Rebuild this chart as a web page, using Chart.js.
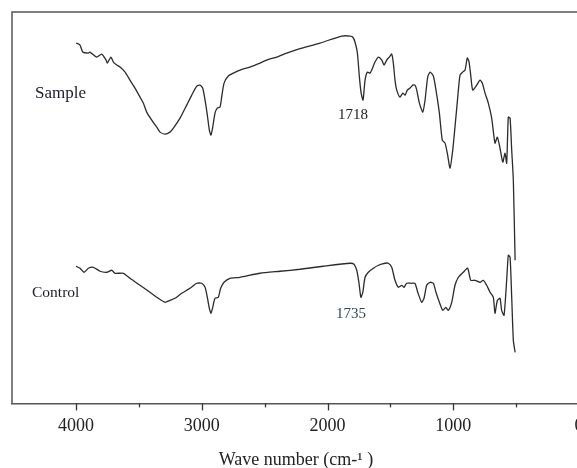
<!DOCTYPE html>
<html>
<head>
<meta charset="utf-8">
<script src="https://cdn.jsdelivr.net/npm/chart.js@4"></script>
<style>
  html, body { margin: 0; padding: 0; overflow: hidden; background: #fff; }
  #wrap { width: 600px; height: 468px; }
</style>
</head>
<body>
<div id="wrap"><canvas id="chart"></canvas></div>
<script>
// FTIR spectra, wavenumber (cm-1) vs. transmittance (arbitrary units)
const sampleWn = [4000, 3968, 3947, 3902, 3889, 3835, 3796, 3761, 3751, 3722, 3703, 3676, 3650, 3610, 3571, 3531, 3491, 3465, 3438, 3398, 3358, 3332, 3292, 3253, 3226, 3173, 3120, 3080, 3040, 3014, 2993, 2974, 2956, 2940, 2927, 2913, 2895, 2877, 2855, 2842, 2823, 2789, 2749, 2696, 2617, 2537, 2484, 2404, 2325, 2232, 2060, 1887, 1821, 1800, 1782, 1763, 1747, 1733, 1718, 1702, 1684, 1662, 1649, 1623, 1596, 1569, 1551, 1530, 1509, 1490, 1477, 1464, 1450, 1424, 1402, 1384, 1366, 1344, 1323, 1305, 1291, 1270, 1243, 1225, 1204, 1185, 1159, 1138, 1111, 1088, 1066, 1048, 1026, 1005, 987, 965, 947, 926, 907, 889, 875, 862, 846, 814, 788, 770, 748, 722, 695, 669, 650, 629, 607, 589, 576, 563, 549, 536, 523, 509];
const sampleT = [360, 358, 351, 350, 351, 346, 349, 343, 340, 346, 341, 338, 336, 331, 323, 315, 306, 300, 291, 283, 276, 271, 269, 271, 275, 285, 298, 308, 317, 318, 315, 303, 288, 273, 268, 276, 290, 295, 296, 306, 320, 327, 330, 333, 336, 340, 343, 346, 350, 354, 360, 367, 367, 366, 361, 350, 326, 310, 303, 323, 331, 330, 333, 341, 346, 343, 338, 343, 346, 349, 340, 323, 313, 306, 310, 308, 313, 315, 318, 318, 313, 300, 291, 303, 326, 331, 327, 313, 290, 263, 260, 250, 235, 253, 276, 306, 328, 331, 333, 345, 341, 328, 313, 318, 323, 320, 310, 300, 285, 260, 266, 255, 241, 250, 240, 286, 285, 253, 223, 143];

const controlWn = [4000, 3968, 3936, 3902, 3862, 3809, 3756, 3716, 3690, 3624, 3571, 3491, 3412, 3346, 3292, 3253, 3213, 3160, 3094, 3040, 3001, 2974, 2956, 2940, 2927, 2913, 2895, 2869, 2850, 2823, 2776, 2696, 2537, 2378, 2219, 2034, 1821, 1790, 1768, 1750, 1735, 1720, 1702, 1676, 1636, 1596, 1543, 1517, 1490, 1464, 1437, 1410, 1392, 1371, 1331, 1305, 1283, 1252, 1233, 1212, 1185, 1159, 1138, 1111, 1084, 1060, 1040, 1013, 987, 960, 921, 886, 862, 828, 788, 762, 735, 708, 682, 669, 650, 629, 616, 597, 576, 563, 549, 536, 523, 509];
const controlT = [137, 135, 131, 135, 136, 132, 131, 133, 130, 130, 125, 118, 111, 105, 101, 103, 105, 110, 115, 120, 120, 116, 106, 95, 90, 96, 105, 106, 115, 121, 125, 126, 130, 132, 134, 137, 140, 139, 133, 120, 106, 111, 126, 131, 135, 138, 140, 140, 136, 123, 116, 118, 116, 120, 120, 120, 111, 101, 105, 118, 121, 120, 111, 101, 93, 96, 93, 101, 118, 126, 131, 135, 123, 123, 121, 123, 118, 111, 106, 90, 103, 105, 93, 88, 123, 148, 146, 106, 63, 51];

const majorTicks = [4000, 3000, 2000, 1000, 0];
const minorTicks = [3500, 2500, 1500, 500];

const serif = '"Liberation Serif", "DejaVu Serif", serif';

function toPoints(xs, ys) {
    return xs.map((x, i) => ({ x: x, y: ys[i] }));
}

// frame, tick marks and the text labels sitting on the plot
const decorations = {
    id: 'decorations',
    afterDraw(chart) {
        const ctx = chart.ctx;
        const area = chart.chartArea;
        const xs = chart.scales.x;
        ctx.save();

        // left and top edges of the box
        ctx.strokeStyle = '#555';
        ctx.lineWidth = 1.5;
        ctx.beginPath();
        ctx.moveTo(area.left, area.bottom);
        ctx.lineTo(area.left, area.top);
        ctx.lineTo(area.right, area.top);
        ctx.stroke();

        // tick marks below the axis, minor ones shorter
        ctx.strokeStyle = '#333';
        ctx.lineWidth = 1.3;
        majorTicks.concat(minorTicks).forEach(v => {
            const px = Math.round(xs.getPixelForValue(v)) + 0.5;
            const len = majorTicks.includes(v) ? 7 : 4;
            ctx.beginPath();
            ctx.moveTo(px, area.bottom);
            ctx.lineTo(px, area.bottom + len);
            ctx.stroke();
        });

        ctx.textAlign = 'left';
        ctx.textBaseline = 'middle';
        ctx.fillStyle = '#1c1c2a';
        ctx.font = '17px ' + serif;
        ctx.fillText('Sample', 35, 94);
        ctx.font = '15.5px ' + serif;
        ctx.fillText('Control', 32, 293);

        ctx.fillStyle = '#222';
        ctx.font = '15px ' + serif;
        ctx.fillText('1718', 338, 115);
        ctx.fillStyle = '#2a4a55';
        ctx.fillText('1735', 336, 314);

        // axis title
        ctx.fillStyle = '#222';
        ctx.textAlign = 'center';
        ctx.font = '18px ' + serif;
        ctx.fillText('Wave number (cm-\u00b9 )', 296, 460);
        ctx.restore();
    }
};

new Chart(document.getElementById('chart'), {
    type: 'line',
    data: {
        datasets: [
            {
                label: 'Sample',
                data: toPoints(sampleWn, sampleT),
                borderColor: '#2b2b2b',
                borderWidth: 1.3,
                pointRadius: 0,
                tension: 0.2,
                fill: false
            },
            {
                label: 'Control',
                data: toPoints(controlWn, controlT),
                borderColor: '#2b2b2b',
                borderWidth: 1.3,
                pointRadius: 0,
                tension: 0.2,
                fill: false
            }
        ]
    },
    options: {
        responsive: true,
        maintainAspectRatio: false,
        animation: false,
        layout: { padding: { left: 12, top: 12, right: 0, bottom: 19 } },
        plugins: {
            legend: { display: false },
            tooltip: { enabled: false }
        },
        scales: {
            x: {
                type: 'linear',
                reverse: true,
                min: -166,
                max: 4509,
                afterBuildTicks: scale => {
                    scale.ticks = majorTicks.concat(minorTicks)
                        .sort((a, b) => b - a)
                        .map(v => ({ value: v }));
                },
                ticks: {
                    autoSkip: false,
                    maxRotation: 0,
                    padding: 12,
                    color: '#222',
                    font: { size: 18, family: serif },
                    callback: v => (v % 1000 === 0 ? String(v) : '')
                },
                grid: { display: true, drawOnChartArea: false, drawTicks: false },
                border: { display: true, color: '#555', width: 1.5 }
            },
            y: {
                display: false,
                min: 0,
                max: 391
            }
        }
    },
    plugins: [decorations]
});
</script>
</body>
</html>
